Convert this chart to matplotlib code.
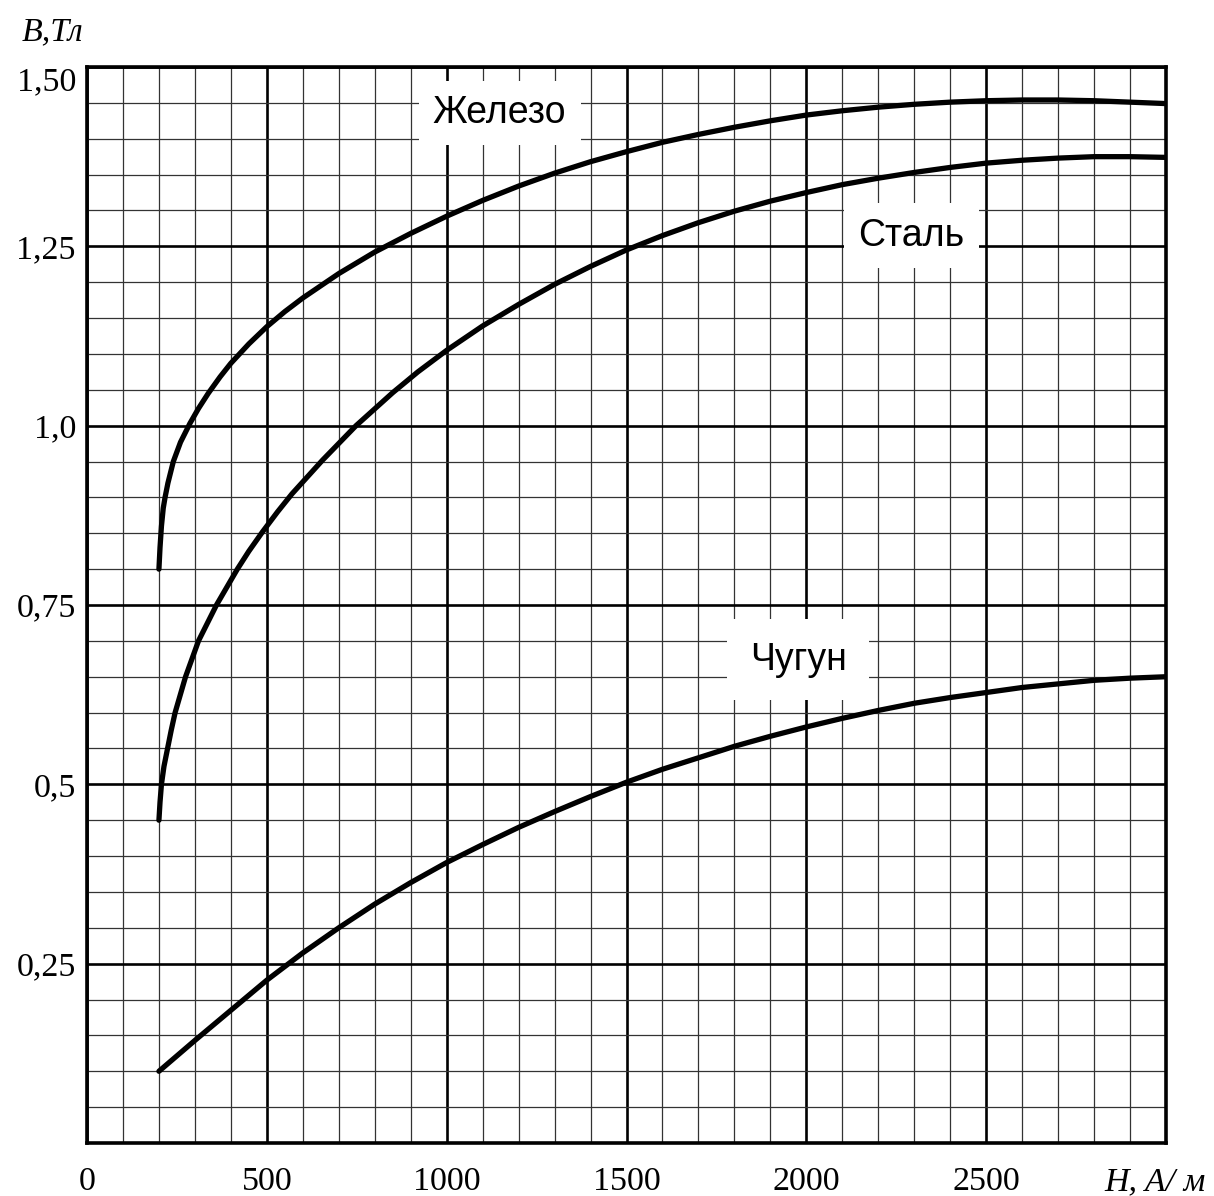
import numpy as np
import matplotlib.pyplot as plt
from matplotlib.ticker import MultipleLocator

# ---------- Data ----------
H_fe = [200, 203, 207, 212, 217, 225, 240, 260, 286, 310, 337, 370, 400, 450, 500, 550,
        600, 700, 800, 900, 1000,
        1100, 1200, 1300, 1400, 1500, 1600, 1700, 1800, 1900, 2000,
        2100, 2200, 2300, 2400, 2500, 2600, 2700, 2800, 2900, 3000]
B_fe = [0.800, 0.830, 0.860, 0.885, 0.900, 0.920, 0.950, 0.977, 1.003, 1.024, 1.045, 1.068,
        1.087, 1.114, 1.138, 1.159,
        1.178, 1.212, 1.242, 1.268, 1.292,
        1.314, 1.334, 1.352, 1.368, 1.382, 1.395, 1.406, 1.416, 1.425, 1.433,
        1.439, 1.444, 1.448, 1.451, 1.453, 1.454, 1.454, 1.453, 1.451, 1.449]

H_st = [200, 203, 207, 214, 224, 234, 245, 274, 310, 335, 360, 418, 450, 488, 530, 570,
        655, 748, 850, 920, 1000,
        1100, 1200, 1300, 1400, 1500, 1600, 1700, 1800, 1900, 2000,
        2100, 2200, 2300, 2400, 2500, 2600, 2700, 2800, 2900, 3000]
B_st = [0.450, 0.475, 0.500, 0.525, 0.550, 0.575, 0.600, 0.650, 0.700, 0.725, 0.750, 0.800,
        0.825, 0.852, 0.880, 0.905,
        0.952, 1.000, 1.046, 1.075, 1.105,
        1.139, 1.169, 1.197, 1.222, 1.245, 1.265, 1.283, 1.299, 1.313, 1.325,
        1.336, 1.345, 1.353, 1.360, 1.366, 1.370, 1.373, 1.375, 1.375, 1.374]

H_ci = [200, 300, 400, 500, 600, 700, 800, 900, 1000,
        1100, 1200, 1300, 1400, 1500, 1600, 1700, 1800, 1900, 2000,
        2100, 2200, 2300, 2400, 2500, 2600, 2700, 2800, 2900, 3000]
B_ci = [0.10, 0.143, 0.185, 0.227, 0.265, 0.300, 0.333, 0.363, 0.391,
        0.416, 0.440, 0.462, 0.483, 0.503, 0.521, 0.537, 0.553, 0.567, 0.580,
        0.592, 0.603, 0.613, 0.621, 0.628, 0.635, 0.640, 0.645, 0.648, 0.650]

x_ticks = [0, 500, 1000, 1500, 2000, 2500]
x_labels = ["0", "500", "1000", "1500", "2000", "2500"]
y_ticks = [0.25, 0.5, 0.75, 1.0, 1.25, 1.5]
y_labels = ["0,25", "0,5", "0,75", "1,0", "1,25", "1,50"]

serif = "Liberation Serif"
sans = "Liberation Sans"

# ---------- Figure ----------
fig = plt.figure(figsize=(12.14, 11.96), dpi=100)
ax = fig.add_axes([87/1214, 53/1196, 1079/1214, 1076/1196])
ax.set_xlim(0, 3000)
ax.set_ylim(0, 1.5)

# grid: minor every 100 / 0.05, major every 500 / 0.25
ax.xaxis.set_major_locator(MultipleLocator(500))
ax.xaxis.set_minor_locator(MultipleLocator(100))
ax.yaxis.set_major_locator(MultipleLocator(0.25))
ax.yaxis.set_minor_locator(MultipleLocator(0.05))
ax.grid(which='minor', color='#333333', linewidth=0.9)
ax.grid(which='major', color='black', linewidth=1.9)
ax.set_axisbelow(True)
ax.tick_params(which='both', length=0)

for s in ax.spines.values():
    s.set_linewidth(2.6)
    s.set_zorder(5)

# curves
for H, B in [(H_fe, B_fe), (H_st, B_st), (H_ci, B_ci)]:
    ax.plot(H, B, color='black', linewidth=3.8, solid_capstyle='round',
            solid_joinstyle='round', zorder=4)

# tick labels
ax.set_xticks(x_ticks)
ax.set_xticklabels(x_labels, fontfamily=serif, fontsize=24.5)
ax.set_yticks(y_ticks)
ax.set_yticklabels(y_labels, fontfamily=serif, fontsize=24.5)
ax.tick_params(axis='x', pad=17)
ax.tick_params(axis='y', pad=8)
ax.get_yticklabels()[-1].set_verticalalignment('top')

# axis titles
ax.text(1.037, -0.0437, "H, A/ м", transform=ax.transAxes, ha='right', va='baseline',
        fontfamily=serif, fontstyle='italic', fontsize=24.5)
fig.text(53/1214, 1 - 32/1196, "B,Тл", ha='center', va='center',
         fontfamily=serif, fontstyle='italic', fontsize=24.5)

# curve names
box = dict(boxstyle='square,pad=0.38', facecolor='white', edgecolor='none')
ax.text(1147, 1.436, "Железо", ha='center', va='center', fontfamily=sans,
        fontsize=27, bbox=box, zorder=3)
ax.text(2292, 1.265, "Сталь", ha='center', va='center', fontfamily=sans,
        fontsize=27, bbox=box, zorder=3)
ax.text(1978, 0.674, "Чугун", ha='center', va='center', fontfamily=sans,
        fontsize=27, bbox=dict(boxstyle='square,pad=0.6', facecolor='white',
                               edgecolor='none'), zorder=3)

fig.savefig("out.png", dpi=100)
